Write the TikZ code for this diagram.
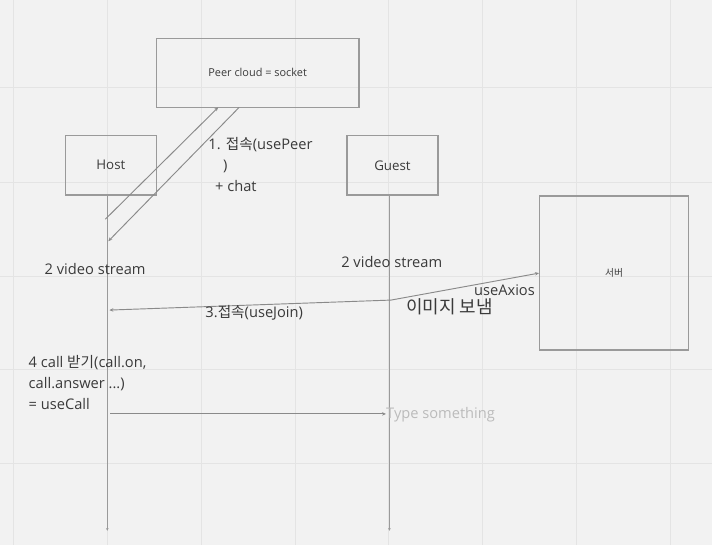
\documentclass[tikz,border=0pt]{standalone}
\usepackage{fontspec}
\setmainfont{Open Sans}
\newfontfamily\kr{Noto Sans CJK KR}
\usetikzlibrary{arrows.meta}

\definecolor{board}{HTML}{F2F2F2}
\definecolor{gridgray}{HTML}{E4E4E4}
\definecolor{edgegray}{HTML}{9A9A9A}
\definecolor{linegray}{HTML}{8A8A8A}
\definecolor{ink}{HTML}{3A3A3A}
\definecolor{hint}{HTML}{BBBBBB}

\begin{document}
\begin{tikzpicture}[x=0.75pt, y=-0.75pt,
    box/.style={draw=edgegray, line width=1.1pt, inner sep=0pt, text=ink},
    lifeline/.style={draw=edgegray, line width=1pt, -{Stealth[length=2pt, width=2pt]}},
    msg/.style={draw=linegray, line width=0.7pt, -{Stealth[length=3pt, width=2.6pt]}},
    label/.style={anchor=west, inner sep=0pt, text=ink, font=\fontsize{11pt}{15.75pt}\selectfont, align=left}
]

% Board and grid
\fill[board] (0,0) rectangle (712,545);
\foreach \gx in {13,107,...,671}
    \draw[gridgray, line width=0.75pt] (\gx,0) -- (\gx,545);
\foreach \gy in {87,182,276,370,464}
    \draw[gridgray, line width=0.75pt] (0,\gy) -- (712,\gy);

% Participants
\node[box, minimum width=152.25pt, minimum height=51.75pt, font=\fontsize{8.2pt}{10pt}\selectfont] (peer) at (257.5,72.5) {Peer cloud = socket};
\node[box, minimum width=68.25pt, minimum height=45pt, font=\fontsize{10pt}{12pt}\selectfont] (host) at (110.5,165) {Host};
\node[box, minimum width=68.25pt, minimum height=45pt, font=\fontsize{10pt}{12pt}\selectfont] (guest) at (392.5,165) {Guest};
\node[box, minimum width=111.75pt, minimum height=115.5pt, font=\kr\fontsize{7.3pt}{9pt}\selectfont] (server) at (614.5,273) {서버};

% Lifelines
\coordinate (hostend) at (107,531);
\coordinate (guestend) at (389.5,531);
\draw[lifeline] (host.south -| hostend) -- (hostend);
\draw[lifeline] (guest.south -| guestend) -- (guestend);

% Points on the lifelines
\coordinate (h1) at (105,219);
\coordinate (h2) at (108,241);
\coordinate (h3) at (109,310);
\coordinate (h4) at (110,414);
\coordinate (g3) at (391,300);
\coordinate (g4) at (386,414);
\coordinate (p1) at (218,107);
\coordinate (p2) at (239,107);

% Messages
\draw[msg] (h1) -- (p1);
\draw[msg] (p2) -- (h2);
\draw[msg] (g3) -- (h3);
\draw[msg] (g3) -- (server.west);
\draw[msg] (h4) -- (g4);

% Labels
\node[label] (connect) at (208,164) {1. {\kr 접속}(usePeer\\\hspace{11pt})\\\hspace{5pt}+ chat};
\node[label] (streamh) at (44,269) {2 video stream};
\node[label] (streamg) at (341,262) {2 video stream};
\node[label] (join) at (205,313) {3.{\kr 접속}(useJoin)};
\node[label] (axios) at (474,290) {useAxios};
\node[label, font=\kr\fontsize{13.5pt}{16pt}\selectfont] (image) at (406,307) {이미지 보냄};
\node[label] (call) at (28,383) {4 call {\kr 받기}(call.on,\\call.answer ...)\\= useCall};
\node[label, text=hint] (hintbox) at (386,415) {Type something};

\end{tikzpicture}
\end{document}
